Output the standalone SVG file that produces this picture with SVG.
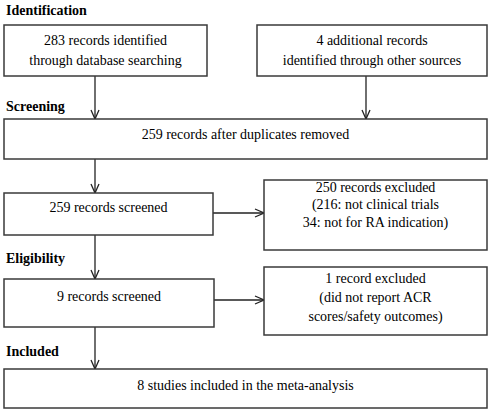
<svg xmlns="http://www.w3.org/2000/svg" width="491" height="412" viewBox="0 0 491 412">
<defs>
<marker id="ah" viewBox="0 0 10 10" refX="10" refY="5" markerWidth="10" markerHeight="10" markerUnits="userSpaceOnUse" orient="auto">
<polyline points="1,1 10,5 1,9" fill="none" stroke="#222" stroke-width="1.3"/>
</marker>
</defs>
<rect width="491" height="412" fill="#fff"/>
<g id="labels" font-family="Liberation Serif, serif" font-size="14" font-weight="bold" fill="#000">
<text x="6" y="15">Identification</text>
<text x="6" y="111">Screening</text>
<text x="6" y="263">Eligibility</text>
<text x="6" y="356">Included</text>
</g>
<g id="connectors" stroke="#222" stroke-width="1.3" fill="none" marker-end="url(#ah)">
<line x1="95" y1="76" x2="95" y2="119"/>
<line x1="366" y1="76" x2="366" y2="119"/>
<line x1="95" y1="159" x2="95" y2="193"/>
<line x1="213" y1="213" x2="264" y2="213"/>
<line x1="95" y1="235" x2="95" y2="279"/>
<line x1="214" y1="300" x2="264" y2="300"/>
<line x1="95" y1="327" x2="95" y2="369"/>
</g>
<g id="nodes" font-family="Liberation Serif, serif" font-size="14" text-anchor="middle">
<g id="n1"><rect x="4" y="25" width="203" height="51" fill="#fff" stroke="#3a3a3a" stroke-width="1.5"/>
<text x="105.5" y="45">283 records identified</text>
<text x="105.5" y="65">through database searching</text></g>
<g id="n2"><rect x="257" y="25" width="230" height="51" fill="#fff" stroke="#3a3a3a" stroke-width="1.5"/>
<text x="372" y="45">4 additional records</text>
<text x="372" y="65">identified through other sources</text></g>
<g id="n3"><rect x="4" y="119" width="483" height="40" fill="#fff" stroke="#3a3a3a" stroke-width="1.5"/>
<text x="245.5" y="139">259 records after duplicates removed</text></g>
<g id="n4"><rect x="4" y="193" width="209" height="42" fill="#fff" stroke="#3a3a3a" stroke-width="1.5"/>
<text x="108.5" y="212">259 records screened</text></g>
<g id="n5"><rect x="264" y="180" width="223" height="70" fill="#fff" stroke="#3a3a3a" stroke-width="1.5"/>
<text x="375.5" y="192">250 records excluded</text>
<text x="375.5" y="209">(216: not clinical trials</text>
<text x="375.5" y="227">34: not for RA indication)</text></g>
<g id="n6"><rect x="4" y="279" width="210" height="48" fill="#fff" stroke="#3a3a3a" stroke-width="1.5"/>
<text x="109" y="301">9 records screened</text></g>
<g id="n7"><rect x="264" y="267" width="223" height="68" fill="#fff" stroke="#3a3a3a" stroke-width="1.5"/>
<text x="375.5" y="283">1 record excluded</text>
<text x="375.5" y="302">(did not report ACR</text>
<text x="375.5" y="321">scores/safety outcomes)</text></g>
<g id="n8"><rect x="4" y="369" width="483" height="39" fill="#fff" stroke="#3a3a3a" stroke-width="1.5"/>
<text x="245.5" y="390">8 studies included in the meta-analysis</text></g>
</g>
</svg>
